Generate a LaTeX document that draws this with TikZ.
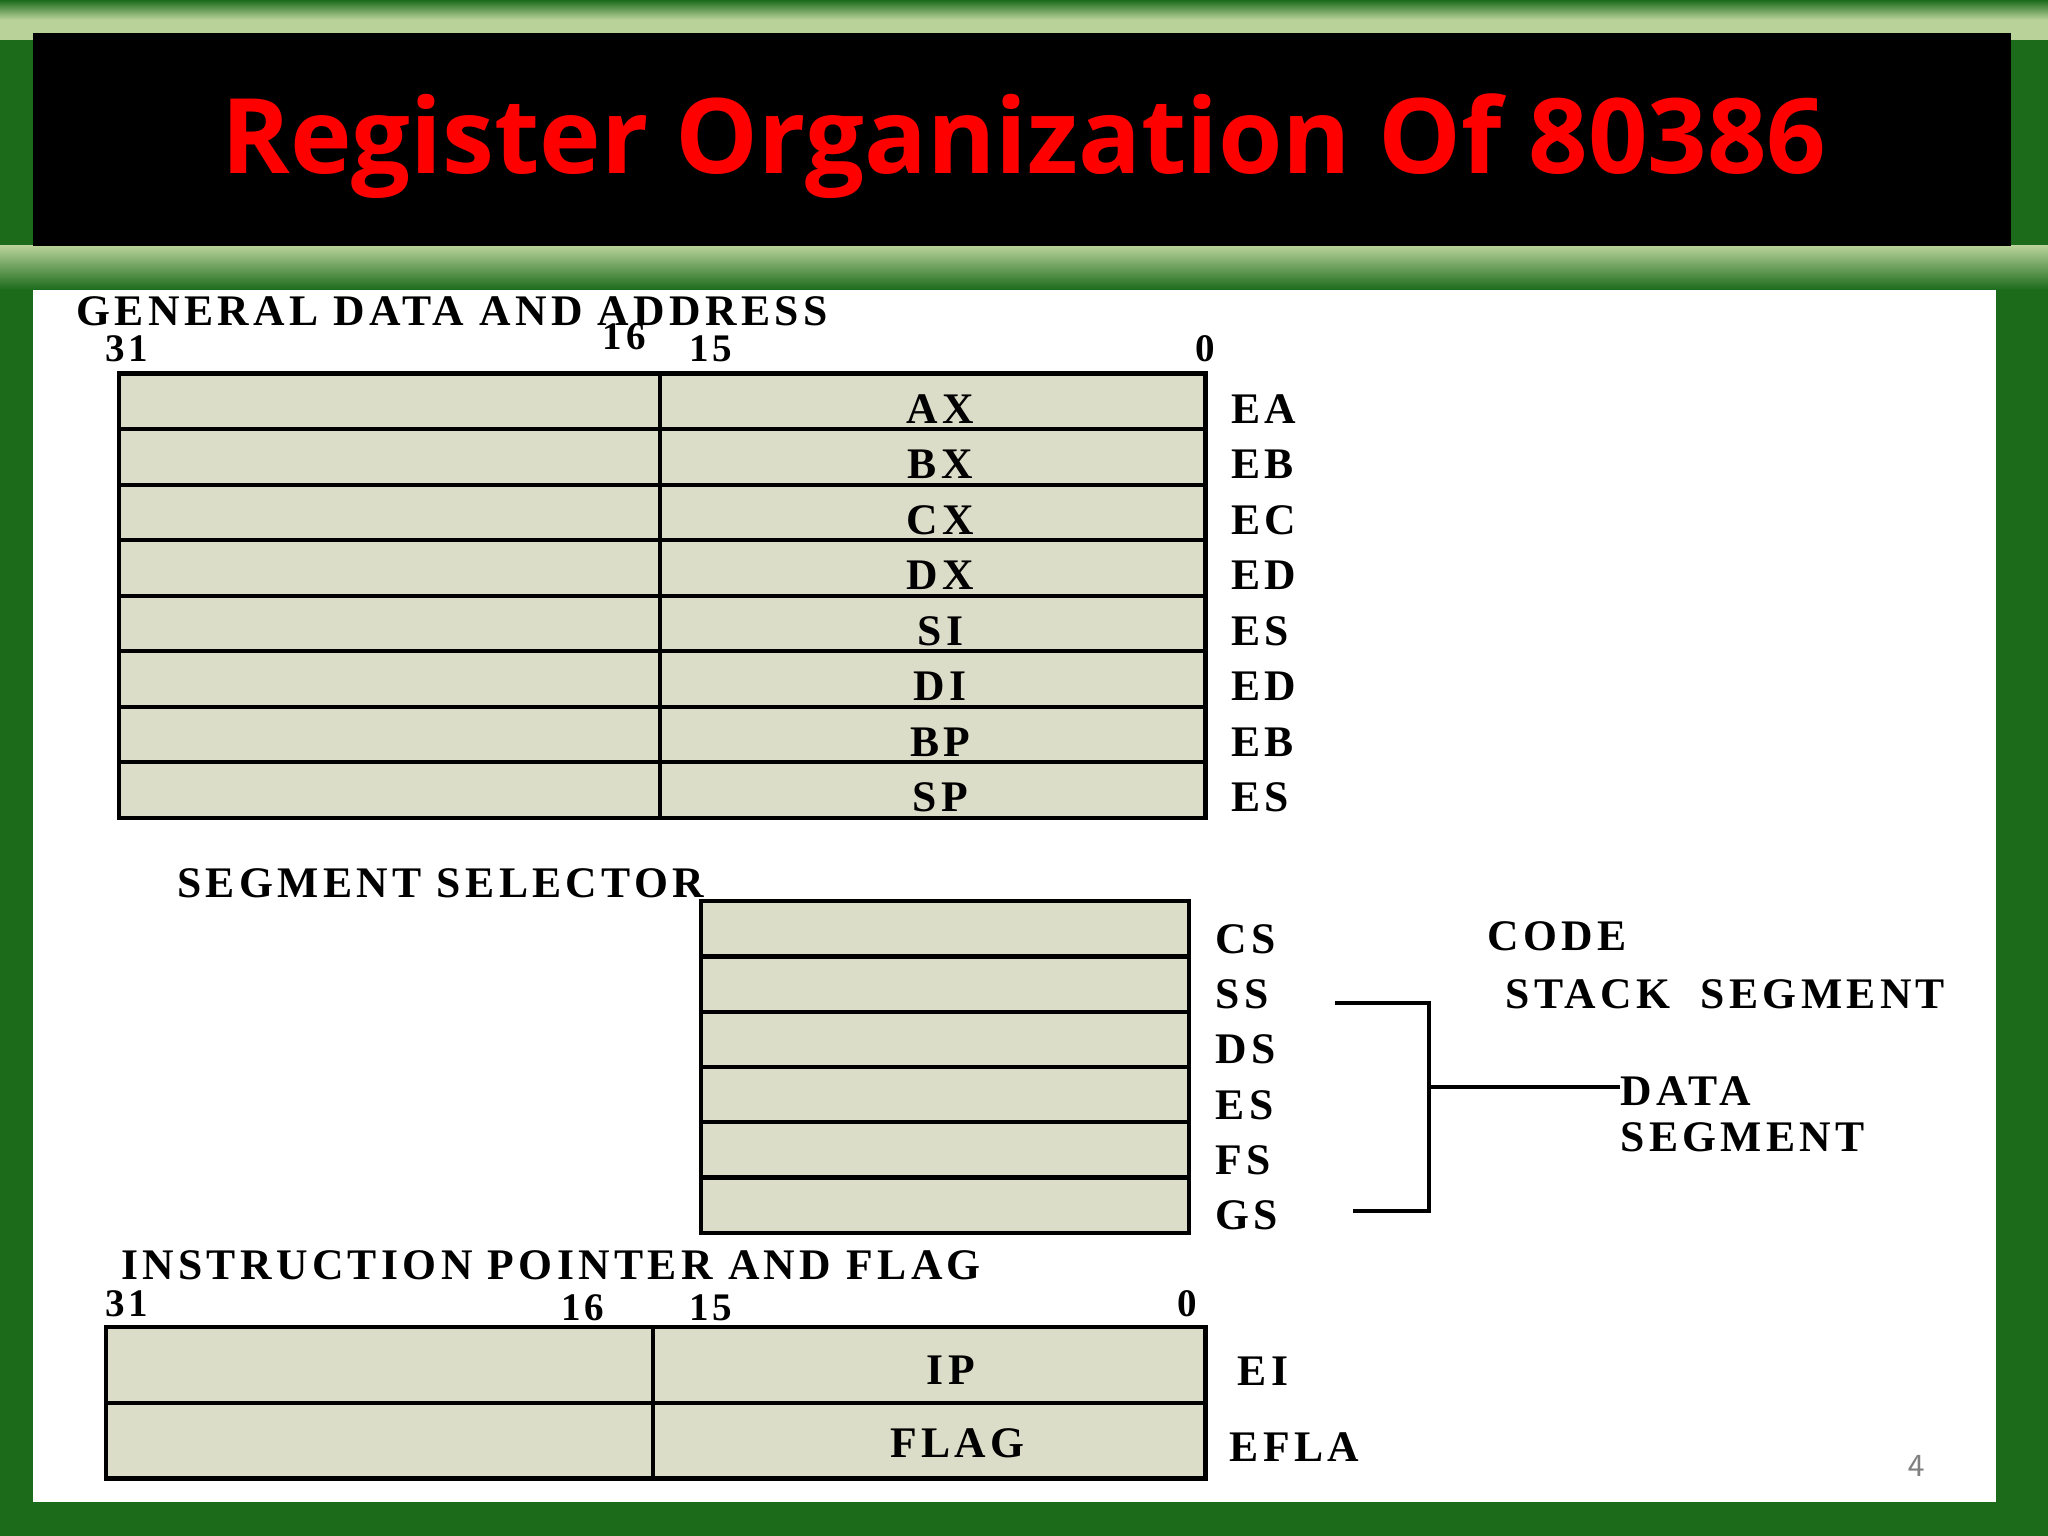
\documentclass[tikz,border=0pt]{standalone}
\usepackage{fontspec}
\setmainfont{Liberation Serif}[LetterSpace=10]
\newfontfamily\titlefont{Open Sans}
\definecolor{regfill}{HTML}{DCDDC8}
\definecolor{bggreen}{HTML}{1B6B1B}
\definecolor{lightg}{HTML}{B9D29A}
\begin{document}
\begin{tikzpicture}[x=0.01cm,y=-0.01cm,
  lbl/.style={font=\fontsize{9.5}{10}\selectfont\bfseries, inner sep=0pt, anchor=west},
  clbl/.style={font=\fontsize{9.5}{10}\selectfont\bfseries, inner sep=0pt},
  num/.style={font=\fontsize{8.5}{9}\selectfont\bfseries, inner sep=0pt},
  reg/.style={draw, line width=0.9pt, fill=regfill},
  ln/.style={line width=0.9pt}]
\useasboundingbox (0,0) rectangle (1568,1176);
\fill[bggreen] (0,0) rectangle (1568,1176);
\shade[top color=bggreen, bottom color=lightg, middle color=lightg] (0,0) rectangle (1568,30);
\shade[top color=lightg, bottom color=bggreen] (0,188) rectangle (1568,222);
\fill[black] (25,25) rectangle (1540,188);
\node[text=red, font=\titlefont\fontsize{22.7}{26}\selectfont\bfseries] (title) at (784,112) {Register Organization Of 80386};
\fill[white] (25,222) rectangle (1528,1150);
% general registers
\node[lbl] (gtitle) at (58,238) {GENERAL DATA AND ADDRESS};
\node[num] (n31) at (97,267) {31};
\node[num] (n16) at (478,258) {16};
\node[num] (n15) at (544,267) {15};
\node[num] (n0) at (923,267) {0};
\foreach \i/\r/\e in {0/AX/EA,1/BX/EB,2/CX/EC,3/DX/ED,4/SI/ES,5/DI/ED,6/BP/EB,7/SP/ES}{
  \draw[reg] (91,{286+42.5*\i}) rectangle (505,{328.5+42.5*\i});
  \draw[reg] (505,{286+42.5*\i}) rectangle (923,{328.5+42.5*\i});
  \node[clbl] (r\i) at (720,{313+42.5*\i}) {\r};
  \node[lbl] (e\i) at (942,{313+42.5*\i}) {\e};
}
% segment selector
\node[lbl] (stitle) at (135,676) {SEGMENT SELECTOR};
\foreach \i/\s in {0/CS,1/SS,2/DS,3/ES,4/FS,5/GS}{
  \draw[reg] (537,{690+42.3*\i}) rectangle (910,{732.3+42.3*\i});
  \node[lbl] (s\i) at (930,{719+42.3*\i}) {\s};
}
\node[lbl] (code) at (1138,717) {CODE};
\node[lbl] (stack) at (1152,761) {STACK\ \ SEGMENT};
\node[lbl, align=left] (data) at (1240,853) {DATA\\SEGMENT};
\coordinate (b1) at (1022,768);
\coordinate (b2) at (1036,927);
\draw[ln] (b1) -- (1094,768) -- (1094,927) -- (b2);
\draw[ln] (1094,832) -- (data.west |- 0,832);
% IP and flags
\node[lbl] (ititle) at (92,969) {INSTRUCTION POINTER AND FLAG};
\node[num] (m31) at (97,998) {31};
\node[num] (m16) at (446,1001) {16};
\node[num] (m15) at (544,1001) {15};
\node[num] (m0) at (909,998) {0};
\draw[reg] (81,1016) rectangle (500,1074);
\draw[reg] (500,1016) rectangle (923,1074);
\draw[reg] (81,1074) rectangle (500,1132);
\draw[reg] (500,1074) rectangle (923,1132);
\node[clbl] (ip) at (728,1049) {IP};
\node[clbl] (flag) at (733,1105) {FLAG};
\node[lbl] (ei) at (947,1050) {EI};
\node[lbl] (efla) at (941,1108) {EFLA};
\node[text=gray, font=\sffamily\fontsize{7}{8}\selectfont] (pg) at (1467,1122) {4};
\end{tikzpicture}
\end{document}
